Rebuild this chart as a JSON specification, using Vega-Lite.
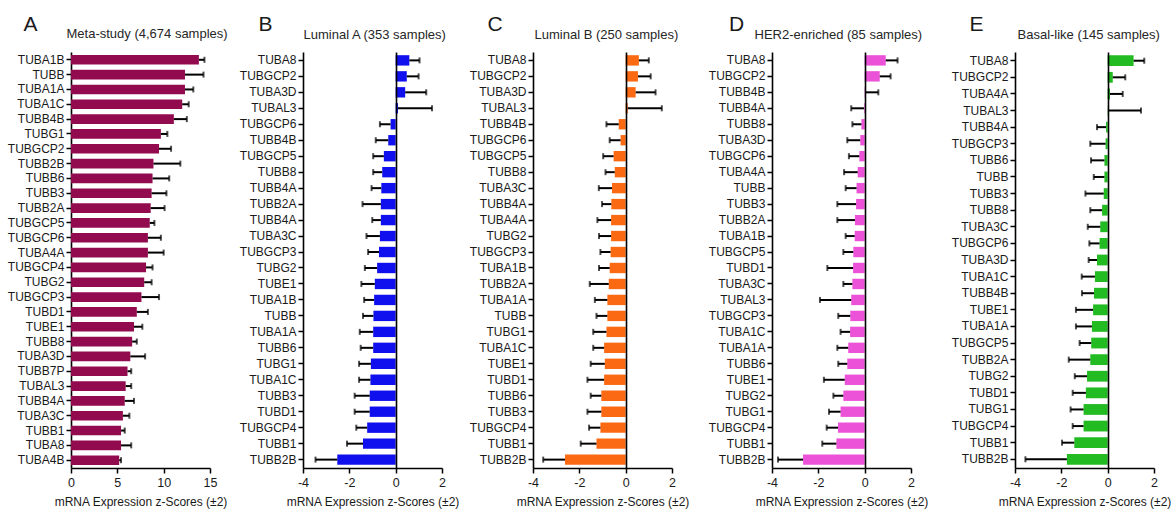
{
  "$schema": "https://vega.github.io/schema/vega-lite/v6.json",
  "padding": {"left": 7, "top": 13, "right": 5, "bottom": 5},
  "background": "white",
  "config": {
    "font": "Liberation Sans",
    "view": {"stroke": null},
    "axis": {"domainColor": "#000", "domainWidth": 1.6, "tickColor": "#000", "tickWidth": 1.5, "tickSize": 5, "labelFontSize": 12, "labelColor": "#1a1a1a", "grid": false, "titleFontWeight": "normal", "titleColor": "#1a1a1a"}
  },
  "datasets": {
    "A": [
      {"gene": "TUBA1B", "z": 13.8, "end": 14.4},
      {"gene": "TUBB", "z": 12.3, "end": 14.3},
      {"gene": "TUBA1A", "z": 12.3, "end": 13.2},
      {"gene": "TUBA1C", "z": 12.0, "end": 12.7},
      {"gene": "TUBB4B", "z": 11.1, "end": 12.5},
      {"gene": "TUBG1", "z": 9.7, "end": 10.4},
      {"gene": "TUBGCP2", "z": 9.5, "end": 10.8},
      {"gene": "TUBB2B", "z": 8.9, "end": 11.8},
      {"gene": "TUBB6", "z": 8.8, "end": 10.6},
      {"gene": "TUBB3", "z": 8.7, "end": 10.3},
      {"gene": "TUBB2A", "z": 8.6, "end": 10.1},
      {"gene": "TUBGCP5", "z": 8.5, "end": 9.0},
      {"gene": "TUBGCP6", "z": 8.3, "end": 9.7},
      {"gene": "TUBA4A", "z": 8.3, "end": 10.0},
      {"gene": "TUBGCP4", "z": 8.1, "end": 8.8},
      {"gene": "TUBG2", "z": 7.9, "end": 8.7},
      {"gene": "TUBGCP3", "z": 7.6, "end": 9.5},
      {"gene": "TUBD1", "z": 7.1, "end": 8.3},
      {"gene": "TUBE1", "z": 6.8, "end": 7.7},
      {"gene": "TUBB8", "z": 6.6, "end": 7.1},
      {"gene": "TUBA3D", "z": 6.4, "end": 8.0},
      {"gene": "TUBB7P", "z": 6.1, "end": 6.5},
      {"gene": "TUBAL3", "z": 5.9, "end": 6.5},
      {"gene": "TUBB4A", "z": 5.8, "end": 6.8},
      {"gene": "TUBA3C", "z": 5.6, "end": 6.3},
      {"gene": "TUBB1", "z": 5.4, "end": 5.8},
      {"gene": "TUBA8", "z": 5.4, "end": 6.5},
      {"gene": "TUBA4B", "z": 5.2, "end": 5.4}
    ],
    "B": [
      {"gene": "TUBA8", "z": 0.59, "end": 1.03},
      {"gene": "TUBGCP2", "z": 0.48, "end": 0.99},
      {"gene": "TUBA3D", "z": 0.41, "end": 1.32},
      {"gene": "TUBAL3", "z": 0.1, "end": 1.57},
      {"gene": "TUBGCP6", "z": -0.22, "end": -0.68},
      {"gene": "TUBB4B", "z": -0.32, "end": -0.86},
      {"gene": "TUBGCP5", "z": -0.51, "end": -0.97},
      {"gene": "TUBB8", "z": -0.58, "end": -0.97},
      {"gene": "TUBB4A", "z": -0.62, "end": -1.04},
      {"gene": "TUBB2A", "z": -0.64, "end": -1.43},
      {"gene": "TUBB4A#2", "z": -0.64, "end": -1.01},
      {"gene": "TUBA3C", "z": -0.68, "end": -1.26},
      {"gene": "TUBGCP3", "z": -0.72, "end": -1.19},
      {"gene": "TUBG2", "z": -0.8, "end": -1.33},
      {"gene": "TUBE1", "z": -0.9, "end": -1.48},
      {"gene": "TUBA1B", "z": -0.93, "end": -1.36},
      {"gene": "TUBB", "z": -0.96, "end": -1.41},
      {"gene": "TUBA1A", "z": -0.97, "end": -1.55},
      {"gene": "TUBB6", "z": -0.97, "end": -1.51},
      {"gene": "TUBG1", "z": -1.07, "end": -1.58},
      {"gene": "TUBA1C", "z": -1.09, "end": -1.58},
      {"gene": "TUBB3", "z": -1.12, "end": -1.77},
      {"gene": "TUBD1", "z": -1.12, "end": -1.77},
      {"gene": "TUBGCP4", "z": -1.23, "end": -1.7},
      {"gene": "TUBB1", "z": -1.41, "end": -2.1},
      {"gene": "TUBB2B", "z": -2.52, "end": -3.46}
    ],
    "C": [
      {"gene": "TUBA8", "z": 0.57, "end": 1.0},
      {"gene": "TUBGCP2", "z": 0.53, "end": 1.08},
      {"gene": "TUBA3D", "z": 0.43, "end": 1.29},
      {"gene": "TUBAL3", "z": 0.09, "end": 1.56},
      {"gene": "TUBB4B", "z": -0.3, "end": -0.83},
      {"gene": "TUBGCP6", "z": -0.22, "end": -0.69},
      {"gene": "TUBGCP5", "z": -0.52, "end": -0.97},
      {"gene": "TUBB8", "z": -0.47, "end": -0.87},
      {"gene": "TUBA3C", "z": -0.59, "end": -1.16},
      {"gene": "TUBB4A", "z": -0.62, "end": -1.02},
      {"gene": "TUBA4A", "z": -0.63, "end": -1.22},
      {"gene": "TUBG2", "z": -0.63, "end": -1.15},
      {"gene": "TUBGCP3", "z": -0.65, "end": -1.09},
      {"gene": "TUBA1B", "z": -0.69, "end": -1.15},
      {"gene": "TUBB2A", "z": -0.73, "end": -1.55},
      {"gene": "TUBA1A", "z": -0.79, "end": -1.33},
      {"gene": "TUBB", "z": -0.79, "end": -1.26},
      {"gene": "TUBG1", "z": -0.83, "end": -1.4},
      {"gene": "TUBA1C", "z": -0.93, "end": -1.4},
      {"gene": "TUBE1", "z": -0.9, "end": -1.51},
      {"gene": "TUBD1", "z": -0.93, "end": -1.65},
      {"gene": "TUBB6", "z": -1.05, "end": -1.51},
      {"gene": "TUBB3", "z": -1.05, "end": -1.65},
      {"gene": "TUBGCP4", "z": -1.09, "end": -1.58},
      {"gene": "TUBB1", "z": -1.26, "end": -1.94},
      {"gene": "TUBB2B", "z": -2.62, "end": -3.56}
    ],
    "D": [
      {"gene": "TUBA8", "z": 0.91, "end": 1.42},
      {"gene": "TUBGCP2", "z": 0.65, "end": 1.12},
      {"gene": "TUBB4B", "z": 0.04, "end": 0.59},
      {"gene": "TUBB4A", "z": -0.03, "end": -0.58},
      {"gene": "TUBB8", "z": -0.14, "end": -0.53},
      {"gene": "TUBA3D", "z": -0.19, "end": -0.75},
      {"gene": "TUBGCP6", "z": -0.23, "end": -0.68},
      {"gene": "TUBA4A", "z": -0.3, "end": -0.89},
      {"gene": "TUBB", "z": -0.35, "end": -0.82},
      {"gene": "TUBB3", "z": -0.37, "end": -1.18},
      {"gene": "TUBB2A", "z": -0.42, "end": -1.18},
      {"gene": "TUBA1B", "z": -0.43, "end": -0.82},
      {"gene": "TUBGCP5", "z": -0.49, "end": -0.92},
      {"gene": "TUBD1", "z": -0.5, "end": -1.61},
      {"gene": "TUBA3C", "z": -0.53, "end": -0.92},
      {"gene": "TUBAL3", "z": -0.58, "end": -1.93},
      {"gene": "TUBGCP3", "z": -0.62, "end": -1.14},
      {"gene": "TUBA1C", "z": -0.63, "end": -1.04},
      {"gene": "TUBA1A", "z": -0.71, "end": -1.18},
      {"gene": "TUBB6", "z": -0.75, "end": -1.14},
      {"gene": "TUBE1", "z": -0.86, "end": -1.76},
      {"gene": "TUBG2", "z": -0.92, "end": -1.35},
      {"gene": "TUBG1", "z": -1.04, "end": -1.54},
      {"gene": "TUBGCP4", "z": -1.15, "end": -1.64},
      {"gene": "TUBB1", "z": -1.22, "end": -1.83},
      {"gene": "TUBB2B", "z": -2.66, "end": -3.74}
    ],
    "E": [
      {"gene": "TUBA8", "z": 1.12, "end": 1.58},
      {"gene": "TUBGCP2", "z": 0.22, "end": 0.76},
      {"gene": "TUBA4A", "z": 0.1, "end": 0.65},
      {"gene": "TUBAL3", "z": 0.01, "end": 1.44},
      {"gene": "TUBB4A", "z": -0.07, "end": -0.46},
      {"gene": "TUBGCP3", "z": -0.09, "end": -0.75},
      {"gene": "TUBB6", "z": -0.14, "end": -0.72},
      {"gene": "TUBB", "z": -0.14, "end": -0.6},
      {"gene": "TUBB3", "z": -0.17, "end": -0.96},
      {"gene": "TUBB8", "z": -0.24, "end": -0.75},
      {"gene": "TUBA3C", "z": -0.32, "end": -0.86},
      {"gene": "TUBGCP6", "z": -0.35, "end": -0.79},
      {"gene": "TUBA3D", "z": -0.46, "end": -0.82},
      {"gene": "TUBA1C", "z": -0.55, "end": -1.12},
      {"gene": "TUBB4B", "z": -0.59, "end": -1.11},
      {"gene": "TUBE1", "z": -0.63, "end": -1.37},
      {"gene": "TUBA1A", "z": -0.68, "end": -1.37},
      {"gene": "TUBGCP5", "z": -0.71, "end": -1.21},
      {"gene": "TUBB2A", "z": -0.75, "end": -1.68},
      {"gene": "TUBG2", "z": -0.89, "end": -1.42},
      {"gene": "TUBD1", "z": -0.94, "end": -1.51},
      {"gene": "TUBG1", "z": -1.04, "end": -1.6},
      {"gene": "TUBGCP4", "z": -1.04, "end": -1.51},
      {"gene": "TUBB1", "z": -1.44, "end": -1.97},
      {"gene": "TUBB2B", "z": -1.76, "end": -3.55}
    ]
  },
  "spacing": 0,
  "bounds": "flush",
  "hconcat": [
    {
      "data": {"name": "A"},
      "width": 139, "height": 416,
      "encoding": {"y": {"field": "gene", "type": "nominal", "sort": null, "scale": {"paddingInner": 0.35, "paddingOuter": 0.2},
        "axis": {"title": "A", "titleAngle": 0, "titleAlign": "left", "titleBaseline": "alphabetic", "titleX": -48, "titleY": -22, "titleFontSize": 21, "labelExpr": "split(datum.value, '#')[0]", "labelPadding": 2}}},
      "layer": [
        {"mark": {"type": "bar", "color": "#930b4f"},
         "encoding": {"x": {"field": "z", "type": "quantitative", "scale": {"domain": [0, 15], "nice": false},
           "axis": {"orient": "bottom", "values": [0, 5, 10, 15], "labelExpr": "'' + datum.value", "labelFlush": false, "labelFontSize": 12.5, "labelPadding": 3, "title": "mRNA Expression z-Scores (±2)", "titleFontSize": 12, "titlePadding": 8}}}},
        {"mark": {"type": "rule", "color": "#000", "strokeWidth": 2},
         "encoding": {"x": {"field": "z", "type": "quantitative",
           "axis": {"orient": "top", "title": "Meta-study (4,674 samples)", "labels": false, "ticks": false, "domain": false, "grid": false, "titleFontSize": 13, "titleAnchor": "start", "titleAlign": "left", "titleBaseline": "alphabetic", "titleX": -5, "titleY": -15, "titleColor": "#262626"}},
           "x2": {"field": "end"}}},
        {"mark": {"type": "tick", "orient": "vertical", "color": "#000", "size": 6, "thickness": 2},
         "encoding": {"x": {"field": "end", "type": "quantitative", "axis": null}}}
      ],
      "resolve": {"axis": {"x": "independent"}}
    },
    {"width": 93, "height": 416, "data": {"values": []}, "mark": "rule", "encoding": {}},
    {
      "data": {"name": "B"},
      "width": 139, "height": 416,
      "encoding": {"y": {"field": "gene", "type": "nominal", "sort": null, "scale": {"paddingInner": 0.35, "paddingOuter": 0.2},
        "axis": {"title": "B", "titleAngle": 0, "titleAlign": "left", "titleBaseline": "alphabetic", "titleX": -45, "titleY": -22, "titleFontSize": 21, "labelExpr": "split(datum.value, '#')[0]", "labelPadding": 2}}},
      "layer": [
        {"mark": {"type": "bar", "color": "#1010ee"},
         "encoding": {"x": {"field": "z", "type": "quantitative", "scale": {"domain": [-4, 2], "nice": false, "zero": false},
           "axis": {"orient": "bottom", "values": [-4, -2, 0, 2], "labelExpr": "'' + datum.value", "labelFlush": false, "labelFontSize": 12.5, "labelPadding": 3, "title": "mRNA Expression z-Scores (±2)", "titleFontSize": 12, "titlePadding": 8}}}},
        {"mark": {"type": "rule", "color": "#000", "strokeWidth": 2},
         "encoding": {"x": {"field": "z", "type": "quantitative",
           "axis": {"orient": "top", "title": "Luminal A (353 samples)", "labels": false, "ticks": false, "domain": false, "grid": true, "values": [0], "gridColor": "#000", "gridWidth": 1.6, "gridOpacity": 1, "zindex": 1, "titleFontSize": 13, "titleAnchor": "start", "titleAlign": "left", "titleBaseline": "alphabetic", "titleX": 0, "titleY": -14, "titleColor": "#262626"}},
           "x2": {"field": "end"}}},
        {"mark": {"type": "tick", "orient": "vertical", "color": "#000", "size": 6, "thickness": 2},
         "encoding": {"x": {"field": "end", "type": "quantitative", "axis": null}}}
      ],
      "resolve": {"axis": {"x": "independent"}}
    },
    {"width": 91, "height": 416, "data": {"values": []}, "mark": "rule", "encoding": {}},
    {
      "data": {"name": "C"},
      "width": 139, "height": 416,
      "encoding": {"y": {"field": "gene", "type": "nominal", "sort": null, "scale": {"paddingInner": 0.35, "paddingOuter": 0.2},
        "axis": {"title": "C", "titleAngle": 0, "titleAlign": "left", "titleBaseline": "alphabetic", "titleX": -46, "titleY": -22, "titleFontSize": 21, "labelExpr": "split(datum.value, '#')[0]", "labelPadding": 2}}},
      "layer": [
        {"mark": {"type": "bar", "color": "#fb6a12"},
         "encoding": {"x": {"field": "z", "type": "quantitative", "scale": {"domain": [-4, 2], "nice": false, "zero": false},
           "axis": {"orient": "bottom", "values": [-4, -2, 0, 2], "labelExpr": "'' + datum.value", "labelFlush": false, "labelFontSize": 12.5, "labelPadding": 3, "title": "mRNA Expression z-Scores (±2)", "titleFontSize": 12, "titlePadding": 8}}}},
        {"mark": {"type": "rule", "color": "#000", "strokeWidth": 2},
         "encoding": {"x": {"field": "z", "type": "quantitative",
           "axis": {"orient": "top", "title": "Luminal B (250 samples)", "labels": false, "ticks": false, "domain": false, "grid": true, "values": [0], "gridColor": "#000", "gridWidth": 1.6, "gridOpacity": 1, "zindex": 1, "titleFontSize": 13, "titleAnchor": "start", "titleAlign": "left", "titleBaseline": "alphabetic", "titleX": 1, "titleY": -14, "titleColor": "#262626"}},
           "x2": {"field": "end"}}},
        {"mark": {"type": "tick", "orient": "vertical", "color": "#000", "size": 6, "thickness": 2},
         "encoding": {"x": {"field": "end", "type": "quantitative", "axis": null}}}
      ],
      "resolve": {"axis": {"x": "independent"}}
    },
    {"width": 100, "height": 416, "data": {"values": []}, "mark": "rule", "encoding": {}},
    {
      "data": {"name": "D"},
      "width": 139, "height": 416,
      "encoding": {"y": {"field": "gene", "type": "nominal", "sort": null, "scale": {"paddingInner": 0.35, "paddingOuter": 0.2},
        "axis": {"title": "D", "titleAngle": 0, "titleAlign": "left", "titleBaseline": "alphabetic", "titleX": -43.5, "titleY": -22, "titleFontSize": 21, "labelExpr": "split(datum.value, '#')[0]", "labelPadding": 2}}},
      "layer": [
        {"mark": {"type": "bar", "color": "#ec52d8"},
         "encoding": {"x": {"field": "z", "type": "quantitative", "scale": {"domain": [-4, 2], "nice": false, "zero": false},
           "axis": {"orient": "bottom", "values": [-4, -2, 0, 2], "labelExpr": "'' + datum.value", "labelFlush": false, "labelFontSize": 12.5, "labelPadding": 3, "title": "mRNA Expression z-Scores (±2)", "titleFontSize": 12, "titlePadding": 8}}}},
        {"mark": {"type": "rule", "color": "#000", "strokeWidth": 2},
         "encoding": {"x": {"field": "z", "type": "quantitative",
           "axis": {"orient": "top", "title": "HER2-enriched (85 samples)", "labels": false, "ticks": false, "domain": false, "grid": true, "values": [0], "gridColor": "#000", "gridWidth": 1.6, "gridOpacity": 1, "zindex": 1, "titleFontSize": 13, "titleAnchor": "start", "titleAlign": "left", "titleBaseline": "alphabetic", "titleX": -18, "titleY": -14, "titleColor": "#262626"}},
           "x2": {"field": "end"}}},
        {"mark": {"type": "tick", "orient": "vertical", "color": "#000", "size": 6, "thickness": 2},
         "encoding": {"x": {"field": "end", "type": "quantitative", "axis": null}}}
      ],
      "resolve": {"axis": {"x": "independent"}}
    },
    {"width": 104, "height": 416, "data": {"values": []}, "mark": "rule", "encoding": {}},
    {
      "data": {"name": "E"},
      "width": 139, "height": 416,
      "encoding": {"y": {"field": "gene", "type": "nominal", "sort": null, "scale": {"paddingInner": 0.35, "paddingOuter": 0.2},
        "axis": {"title": "E", "titleAngle": 0, "titleAlign": "left", "titleBaseline": "alphabetic", "titleX": -46, "titleY": -22, "titleFontSize": 21, "labelExpr": "split(datum.value, '#')[0]", "labelPadding": 2}}},
      "layer": [
        {"mark": {"type": "bar", "color": "#22bb22"},
         "encoding": {"x": {"field": "z", "type": "quantitative", "scale": {"domain": [-4, 2], "nice": false, "zero": false},
           "axis": {"orient": "bottom", "values": [-4, -2, 0, 2], "labelExpr": "'' + datum.value", "labelFlush": false, "labelFontSize": 12.5, "labelPadding": 3, "title": "mRNA Expression z-Scores (±2)", "titleFontSize": 12, "titlePadding": 8}}}},
        {"mark": {"type": "rule", "color": "#000", "strokeWidth": 2},
         "encoding": {"x": {"field": "z", "type": "quantitative",
           "axis": {"orient": "top", "title": "Basal-like (145 samples)", "labels": false, "ticks": false, "domain": false, "grid": true, "values": [0], "gridColor": "#000", "gridWidth": 1.6, "gridOpacity": 1, "zindex": 1, "titleFontSize": 13, "titleAnchor": "start", "titleAlign": "left", "titleBaseline": "alphabetic", "titleX": 2, "titleY": -14, "titleColor": "#262626"}},
           "x2": {"field": "end"}}},
        {"mark": {"type": "tick", "orient": "vertical", "color": "#000", "size": 6, "thickness": 2},
         "encoding": {"x": {"field": "end", "type": "quantitative", "axis": null}}}
      ],
      "resolve": {"axis": {"x": "independent"}}
    }
  ]
}
